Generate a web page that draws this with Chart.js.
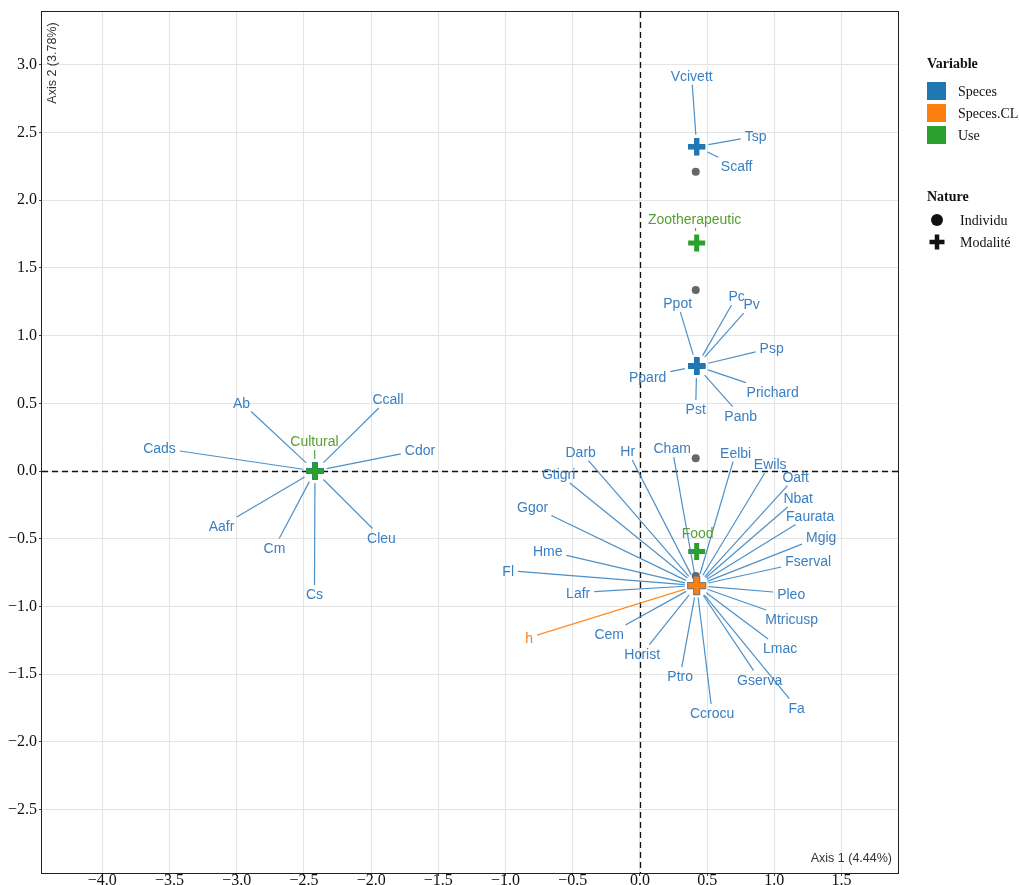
<!DOCTYPE html>
<html>
<head>
<meta charset="utf-8">
<script src="https://cdn.jsdelivr.net/npm/chart.js@4/dist/chart.umd.min.js"></script>
<style>
  html, body { margin: 0; padding: 0; background: #fff; }
  canvas { display: block; }
</style>
</head>
<body>
<canvas id="c" width="1019" height="885"></canvas>
<script>
// MCA factor map (axis 1 vs axis 2): modalities of Speces, Speces.CL and Use, plus individuals

// Speces modalities
const specesNames = [
  'Vcivett', 'Tsp', 'Scaff',
  'Ppot', 'Pc', 'Pv', 'Psp', 'Ppard', 'Prichard', 'Pst', 'Panb',
  'Ab', 'Ccall', 'Cads', 'Cdor', 'Aafr', 'Cm', 'Cleu', 'Cs',
  'Darb', 'Hr', 'Cham', 'Eelbi', 'Ewils', 'Oaft', 'Nbat', 'Faurata', 'Mgig', 'Fserval',
  'Pleo', 'Mtricusp', 'Lmac', 'Fa', 'Gserva', 'Ccrocu', 'Ptro', 'Hcrist', 'Cem',
  'Lafr', 'Fl', 'Hme', 'Ggor', 'Gtigri'
];
const specesX = [
  0.422, 0.422, 0.422,
  0.422, 0.422, 0.422, 0.422, 0.422, 0.422, 0.422, 0.422,
  -2.418, -2.418, -2.418, -2.418, -2.418, -2.418, -2.418, -2.418,
  0.422, 0.422, 0.422, 0.422, 0.422, 0.422, 0.422, 0.422, 0.422, 0.422,
  0.422, 0.422, 0.422, 0.422, 0.422, 0.422, 0.422, 0.422, 0.422,
  0.422, 0.422, 0.422, 0.422, 0.422
];
const specesY = [
  2.395, 2.395, 2.395,
  0.775, 0.775, 0.775, 0.775, 0.775, 0.775, 0.775, 0.775,
  0.0, 0.0, 0.0, 0.0, 0.0, 0.0, 0.0, 0.0,
  -0.846, -0.846, -0.846, -0.846, -0.846, -0.846, -0.846, -0.846, -0.846, -0.846,
  -0.846, -0.846, -0.846, -0.846, -0.846, -0.846, -0.846, -0.846, -0.846,
  -0.846, -0.846, -0.846, -0.846, -0.846
];

// Speces.CL modalities
const specesCLNames = ['h'];
const specesCLX = [0.422];
const specesCLY = [-0.846];

// Use modalities
const useNames = ['Cultural', 'Zootherapeutic', 'Food'];
const useX = [-2.418, 0.422, 0.422];
const useY = [0.0, 1.684, -0.595];

// Individuals
const indivX = [0.415, 0.415, 0.415, 0.415, -2.418];
const indivY = [2.211, 1.337, 0.094, -0.775, 0.0];

// Axis ticks
const tickStep = 0.5;
const axis1Title = 'Axis 1 (4.44%)';
const axis2Title = 'Axis 2 (3.78%)';

// Legend entries
const legendVariableTitle = 'Variable';
const legendVariables = ['Speces', 'Speces.CL', 'Use'];
const legendNatureTitle = 'Nature';
const legendNatures = ['Individu', 'Modalité'];

// Repelled label placement: text centre offset (px) from its point
const labelOffsets = {
  Vcivett: [-5, -71], Tsp: [59, -10.5], Scaff: [40, 19.5],
  Ppot: [-19, -63], Pc: [40, -70], Pv: [55, -62], Psp: [75, -18],
  Ppard: [-49, 10.5], Prichard: [76, 25.5], Pst: [-1, 43], Panb: [44, 49.5],
  Ab: [-73.5, -68.5], Ccall: [73, -72], Cads: [-155.5, -23], Cdor: [105, -21],
  Aafr: [-93.5, 55], Cm: [-40.5, 76.5], Cleu: [66.5, 66.5], Cs: [-0.5, 123],
  Darb: [-116, -134], Hr: [-69, -134.5], Cham: [-24.5, -137.5], Eelbi: [39, -133],
  Ewils: [73.5, -121.5], Oaft: [99, -109], Nbat: [101.5, -87.5], Faurata: [113.5, -70],
  Mgig: [124.5, -49], Fserval: [111.5, -24.5], Pleo: [94.5, 8], Mtricusp: [95, 33.5],
  Lmac: [83.5, 62.5], Fa: [100, 122], Gserva: [63, 94], Ccrocu: [15.5, 127.5],
  Ptro: [-16.5, 90.5], Hcrist: [-54.5, 68], Cem: [-87.5, 48.5],
  Lafr: [-118.5, 7], Fl: [-188.5, -15], Hme: [-149, -34.5], Ggor: [-164, -79],
  Gtigri: [-138, -111.5],
  h: [-167.5, 52],
  Cultural: [-0.5, -30], Zootherapeutic: [-2, -24], Food: [1, -19]
};

const COLORS = {
  speces: '#1f77b4', specesCL: '#ff7f0e', use: '#2ca02c', indiv: '#666666',
  specesText: '#3a7fc1', specesCLText: '#ff7f0e', useText: '#55a030',
  specesLine: 'rgba(45,125,190,0.85)', specesCLLine: 'rgba(255,127,14,0.9)', useLine: 'rgba(60,160,50,0.9)'
};
const LABEL_FONT = '14px "Liberation Sans", Arial, sans-serif';
const SERIF = '"Liberation Serif", "Times New Roman", serif';

const toPoints = (xs, ys) => xs.map((x, i) => ({ x: x, y: ys[i] }));
const fmt = v => (v < 0 ? '\u2212' : '') + Math.abs(v).toFixed(1);

const labelGroups = [
  { names: specesNames, xs: specesX, ys: specesY, text: COLORS.specesText, line: COLORS.specesLine },
  { names: specesCLNames, xs: specesCLX, ys: specesCLY, text: COLORS.specesCLText, line: COLORS.specesCLLine },
  { names: useNames, xs: useX, ys: useY, text: COLORS.useText, line: COLORS.useLine }
];

const mapPlugin = {
  id: 'mapDecor',
  beforeDatasetsDraw(chart) {
    const { ctx, chartArea: a, scales: { x, y } } = chart;
    ctx.save();
    ctx.strokeStyle = '#111';
    ctx.lineWidth = 1.3;
    ctx.setLineDash([6, 4]);
    const x0 = Math.round(x.getPixelForValue(0)) + 0.5;
    const y0 = Math.round(y.getPixelForValue(0)) + 0.5;
    ctx.beginPath();
    ctx.moveTo(x0, a.top); ctx.lineTo(x0, a.bottom);
    ctx.moveTo(a.left, y0); ctx.lineTo(a.right, y0);
    ctx.stroke();
    ctx.restore();
  },
  afterDatasetsDraw(chart) {
    const { ctx, scales: { x, y } } = chart;
    ctx.save();
    ctx.font = LABEL_FONT;
    ctx.textAlign = 'center';
    ctx.textBaseline = 'alphabetic';
    labelGroups.forEach(g => {
      g.names.forEach((name, i) => {
        const off = labelOffsets[name] || [0, -16];
        const ax = x.getPixelForValue(g.xs[i]);
        const ay = y.getPixelForValue(g.ys[i]);
        const cx = ax + off[0], cy = ay + off[1];
        const w = ctx.measureText(name).width;
        const hw = w / 2 + 4, hh = 9;
        const dx = cx - ax, dy = cy - ay;
        const tx = dx !== 0 ? hw / Math.abs(dx) : Infinity;
        const ty = dy !== 0 ? hh / Math.abs(dy) : Infinity;
        const t = Math.min(tx, ty);
        if (t < 1) {
          const ex = cx - dx * t, ey = cy - dy * t;
          const len = Math.hypot(dx, dy);
          const sx = ax + dx / len * 12, sy = ay + dy / len * 12;
          if (Math.hypot(ex - sx, ey - sy) > 3 && (ex - ax) * dx + (ey - ay) * dy > 0) {
            ctx.strokeStyle = g.line;
            ctx.lineWidth = 1.2;
            ctx.beginPath();
            ctx.moveTo(sx, sy);
            ctx.lineTo(ex, ey);
            ctx.stroke();
          }
        }
        ctx.fillStyle = g.text;
        ctx.fillText(name, cx, cy + 5);
      });
    });
    ctx.restore();
  },
  afterDraw(chart) {
    const { ctx, chartArea: a } = chart;
    ctx.save();
    // frame
    ctx.strokeStyle = '#222';
    ctx.lineWidth = 1;
    ctx.strokeRect(Math.round(a.left) - 0.5, Math.round(a.top) - 0.5,
      Math.round(a.right - a.left) + 1, Math.round(a.bottom - a.top) + 1);

    // axis names inside the panel
    ctx.fillStyle = '#333';
    ctx.font = '12.5px "Liberation Sans", Arial, sans-serif';
    ctx.textAlign = 'right';
    ctx.textBaseline = 'middle';
    ctx.fillText(axis1Title, a.right - 6, a.bottom - 14);
    ctx.save();
    ctx.translate(a.left + 11, a.top + 51);
    ctx.rotate(-Math.PI / 2);
    ctx.textAlign = 'center';
    ctx.fillText(axis2Title, 0, 0);
    ctx.restore();

    // legend
    const lx = 927;
    ctx.fillStyle = '#111';
    ctx.textAlign = 'left';
    ctx.textBaseline = 'middle';
    ctx.font = 'bold 14px ' + SERIF;
    ctx.fillText(legendVariableTitle, lx, 64);
    const swatch = [COLORS.speces, COLORS.specesCL, COLORS.use];
    ctx.font = '14px ' + SERIF;
    legendVariables.forEach((v, i) => {
      const yy = 82 + i * 22;
      ctx.fillStyle = swatch[i];
      ctx.fillRect(lx, yy, 19, 18);
      ctx.fillStyle = '#111';
      ctx.fillText(v, lx + 31, yy + 10);
    });
    ctx.font = 'bold 14px ' + SERIF;
    ctx.fillText(legendNatureTitle, lx, 197);
    ctx.font = '14px ' + SERIF;
    // circle symbol
    ctx.beginPath();
    ctx.arc(lx + 10, 220, 6, 0, Math.PI * 2);
    ctx.fill();
    ctx.fillText(legendNatures[0], lx + 33, 221);
    // cross symbol
    ctx.strokeStyle = '#111';
    ctx.lineWidth = 4.5;
    ctx.beginPath();
    ctx.moveTo(lx + 2.5, 242); ctx.lineTo(lx + 17.5, 242);
    ctx.moveTo(lx + 10, 234.5); ctx.lineTo(lx + 10, 249.5);
    ctx.stroke();
    ctx.fillText(legendNatures[1], lx + 33, 243);
    ctx.restore();
  }
};

const keepHalfSteps = scale => {
  scale.ticks = scale.ticks.filter(t => Math.abs(t.value / tickStep - Math.round(t.value / tickStep)) < 1e-6);
};
// fixed axis band sizes, no extra label overhang padding
const fixBand = (w, h) => s => {
  if (w !== null) s.width = w;
  if (h !== null) s.height = h;
  s.paddingTop = 0; s.paddingBottom = 0; s.paddingLeft = 0; s.paddingRight = 0;
};

new Chart(document.getElementById('c'), {
  type: 'scatter',
  data: {
    datasets: [
      {
        label: 'Use',
        data: toPoints(useX, useY),
        pointStyle: 'cross', radius: 8.5, borderWidth: 5,
        borderColor: COLORS.use, backgroundColor: COLORS.use, order: 1
      },
      {
        label: 'Speces.CL',
        data: toPoints(specesCLX, specesCLY),
        pointStyle: 'cross', radius: 8.5, borderWidth: 5,
        borderColor: COLORS.specesCL, backgroundColor: COLORS.specesCL, order: 2
      },
      {
        label: 'Speces.CL outline',
        data: toPoints(specesCLX, specesCLY),
        pointStyle: 'cross', radius: 9.6, borderWidth: 7.2,
        borderColor: '#7a7a7a', backgroundColor: '#7a7a7a', order: 3
      },
      {
        label: 'Speces',
        data: toPoints(specesX, specesY),
        pointStyle: 'cross', radius: 8.5, borderWidth: 5,
        borderColor: COLORS.speces, backgroundColor: COLORS.speces, order: 4
      },
      {
        label: 'Individu',
        data: toPoints(indivX, indivY),
        pointStyle: 'circle', radius: 4, borderWidth: 0,
        backgroundColor: COLORS.indiv, borderColor: COLORS.indiv, order: 5
      }
    ]
  },
  options: {
    responsive: false,
    animation: false,
    events: [],
    layout: { autoPadding: false, padding: { top: 12, right: 121, left: 0, bottom: 0 } },
    plugins: { legend: { display: false }, tooltip: { enabled: false } },
    scales: {
      x: {
        type: 'linear',
        min: -4.449, max: 1.92,
        afterFit: fixBand(null, 12),
        afterBuildTicks: keepHalfSteps,
        grid: { color: '#e4e4e4', lineWidth: 1, drawTicks: true, tickLength: 3, tickColor: '#444' },
        border: { display: false },
        ticks: {
          stepSize: tickStep, includeBounds: false, padding: -5, autoSkip: false, maxRotation: 0,
          color: '#111', font: { family: SERIF, size: 16 },
          callback: v => fmt(v)
        }
      },
      y: {
        type: 'linear',
        min: -2.969, max: 3.39,
        afterFit: fixBand(42, null),
        afterBuildTicks: keepHalfSteps,
        grid: { color: '#e4e4e4', lineWidth: 1, drawTicks: true, tickLength: 3, tickColor: '#444' },
        border: { display: false },
        ticks: {
          stepSize: tickStep, includeBounds: false, padding: 2, autoSkip: false,
          color: '#111', font: { family: SERIF, size: 16 },
          callback: v => fmt(v)
        }
      }
    }
  },
  plugins: [mapPlugin]
});
</script>
</body>
</html>
